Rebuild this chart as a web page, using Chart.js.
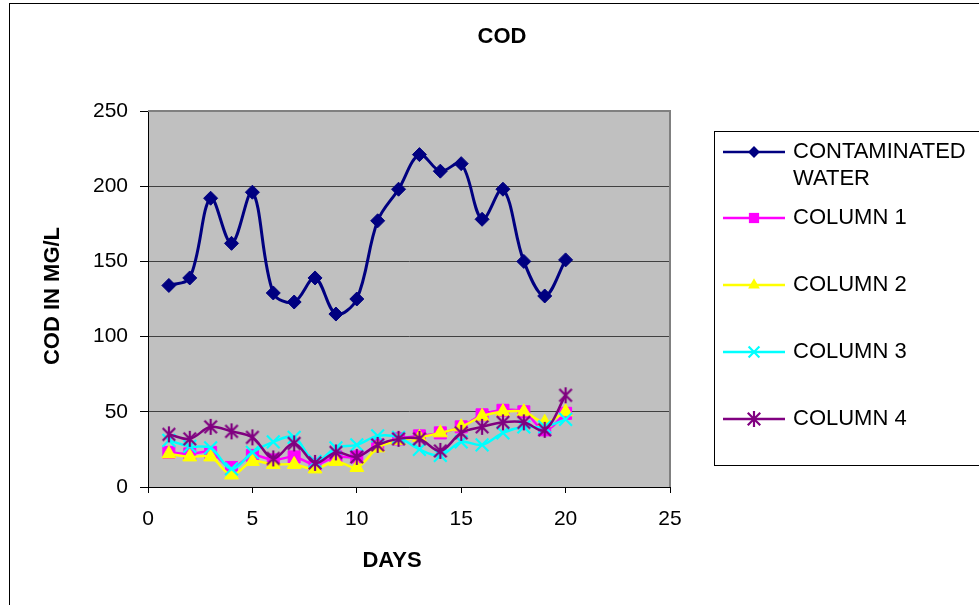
<!DOCTYPE html>
<html>
<head>
<meta charset="utf-8">
<script src="https://cdn.jsdelivr.net/npm/chart.js@4.4.1/dist/chart.umd.min.js"></script>
<style>
  html, body { margin: 0; padding: 0; background: #ffffff; }
  #wrap { width: 979px; height: 605px; position: relative; }
</style>
</head>
<body>
<div id="wrap"><canvas id="c" width="979" height="605"></canvas></div>
<script>
// ---- Data ----
const chartTitle = "COD";
const xTitle = "DAYS";
const yTitle = "COD IN MG/L";
const days = [1,2,3,4,5,6,7,8,9,10,11,12,13,14,15,16,17,18,19,20];
const seriesNames = ["CONTAMINATED WATER", "COLUMN 1", "COLUMN 2", "COLUMN 3", "COLUMN 4"];
const contaminatedWater = [134,139,192,162,196,129,123,139,115,125,177,198,221,210,215,178,198,150,127,151];
const column1 = [23,22,23,13,21,18,20,15,20,20,28,32,34,36,40,48,51,50,38,49];
const column2 = [22,20,20,8,17,15,15,12,17,13,26,31,33,36,40,47,50,50,43,50];
const column3 = [31,27,26,12,23,30,33,17,26,28,34,33,25,21,30,28,36,40,40,45];
const column4 = [35,32,40,37,33,19,29,16,23,20,28,32,32,24,36,40,43,43,38,61];
const xTicks = [0,5,10,15,20,25];
const yTicks = [0,50,100,150,200,250];

// ---- Styles ----
const FONT = "'Liberation Sans', Arial, Helvetica, sans-serif";
const colors = ["#000080", "#FF00FF", "#FFFF00", "#00FFFF", "#800080"];

function makeAsterisk(color, size, lw) {
  const c = document.createElement('canvas');
  c.width = size; c.height = size;
  const g = c.getContext('2d');
  g.strokeStyle = color; g.lineWidth = lw; g.lineCap = 'butt';
  const m = size / 2, r = size / 2 - 1;
  const d = r * 0.78;
  g.beginPath();
  g.moveTo(m - d, m - d); g.lineTo(m + d, m + d);
  g.moveTo(m + d, m - d); g.lineTo(m - d, m + d);
  g.moveTo(m, m - r); g.lineTo(m, m + r);
  g.stroke();
  return c;
}
const asterisk = makeAsterisk(colors[4], 18, 2.2);

const seriesData = [contaminatedWater, column1, column2, column3, column4];
const pointStyles = ['rectRot', 'rect', 'triangle', 'crossRot', asterisk];
const pointRadii = [7, 8.5, 8, 9, 9];

const datasets = seriesData.map((vals, i) => ({
  label: seriesNames[i],
  data: days.map((d, k) => ({ x: d, y: vals[k] })),
  borderColor: colors[i],
  backgroundColor: colors[i],
  pointBackgroundColor: colors[i],
  pointBorderColor: colors[i],
  pointBorderWidth: i === 3 ? 2.2 : 1,
  pointStyle: pointStyles[i],
  pointRadius: pointRadii[i],
  borderWidth: i === 0 ? 3 : 2.5,
  tension: 0.35,
  fill: false,
  order: 4 - i
}));

function drawMarker(ctx, style, x, y, r, color) {
  ctx.save();
  ctx.fillStyle = color; ctx.strokeStyle = color;
  if (style instanceof HTMLCanvasElement) {
    ctx.drawImage(style, x - style.width / 2, y - style.height / 2);
  } else if (style === 'rectRot') {
    ctx.beginPath(); ctx.moveTo(x - r, y); ctx.lineTo(x, y - r); ctx.lineTo(x + r, y); ctx.lineTo(x, y + r); ctx.closePath(); ctx.fill();
  } else if (style === 'rect') {
    const s = r * Math.SQRT1_2; ctx.fillRect(x - s, y - s, 2 * s, 2 * s);
  } else if (style === 'triangle') {
    ctx.beginPath();
    for (let k = 0; k < 3; k++) {
      const a = k * 2 * Math.PI / 3;
      const px = x + Math.sin(a) * r, py = y - Math.cos(a) * r;
      if (k === 0) ctx.moveTo(px, py); else ctx.lineTo(px, py);
    }
    ctx.closePath(); ctx.fill();
  } else if (style === 'crossRot') {
    const d = r * Math.SQRT1_2; ctx.lineWidth = 2.2;
    ctx.beginPath(); ctx.moveTo(x - d, y - d); ctx.lineTo(x + d, y + d); ctx.moveTo(x + d, y - d); ctx.lineTo(x - d, y + d); ctx.stroke();
  }
  ctx.restore();
}

const decorPlugin = {
  id: 'decor',
  beforeDraw(chart) {
    const { ctx, chartArea: a } = chart;
    ctx.save();
    ctx.fillStyle = '#ffffff';
    ctx.fillRect(0, 0, chart.width, chart.height);
    // outer frame
    ctx.strokeStyle = '#000000'; ctx.lineWidth = 1;
    ctx.strokeRect(9.5, 3.5, 1200, 1200);
    // plot area
    ctx.fillStyle = '#C0C0C0';
    ctx.fillRect(a.left, a.top, a.right - a.left, a.bottom - a.top);
    ctx.restore();
  },
  beforeDatasetsDraw(chart) {
    const { ctx, chartArea: a } = chart;
    ctx.save();
    ctx.strokeStyle = '#808080'; ctx.lineWidth = 2;
    ctx.beginPath();
    ctx.moveTo(a.left, a.top); ctx.lineTo(a.right, a.top); ctx.lineTo(a.right, a.bottom);
    ctx.stroke();
    ctx.restore();
  },
  afterDraw(chart) {
    const { ctx } = chart;
    ctx.save();
    // titles
    ctx.fillStyle = '#000000';
    ctx.font = "bold 22px " + FONT;
    ctx.textAlign = 'center'; ctx.textBaseline = 'middle';
    ctx.fillText(chartTitle, 502, 37);
    ctx.fillText(xTitle, 392, 561);
    ctx.save();
    ctx.translate(53, 296); ctx.rotate(-Math.PI / 2);
    ctx.fillText(yTitle, 0, 0);
    ctx.restore();
    // legend
    ctx.fillStyle = '#ffffff';
    ctx.fillRect(714.5, 131.5, 400, 334);
    ctx.strokeStyle = '#000000'; ctx.lineWidth = 1;
    ctx.strokeRect(714.5, 131.5, 400, 334);
    const rows = [152, 218, 285, 352, 419];
    ctx.font = "22px " + FONT;
    ctx.textAlign = 'left'; ctx.textBaseline = 'middle';
    rows.forEach((ry, i) => {
      ctx.strokeStyle = colors[i]; ctx.lineWidth = 2.5;
      ctx.beginPath(); ctx.moveTo(723, ry); ctx.lineTo(785, ry); ctx.stroke();
      drawMarker(ctx, pointStyles[i], 754, ry, pointRadii[i] * 0.85, colors[i]);
      ctx.fillStyle = '#000000';
      if (i === 0) {
        ctx.fillText("CONTAMINATED", 793, ry);
        ctx.fillText("WATER", 793, ry + 27);
      } else {
        ctx.fillText(seriesNames[i], 793, ry);
      }
    });
    ctx.restore();
  }
};

new Chart(document.getElementById('c'), {
  type: 'line',
  data: { datasets },
  options: {
    responsive: false,
    devicePixelRatio: 1,
    animation: false,
    events: [],
    layout: { padding: { top: 111, right: 309, left: 0, bottom: 0 } },
    plugins: { legend: { display: false }, title: { display: false }, tooltip: { enabled: false } },
    scales: {
      x: {
        type: 'linear', min: 0, max: 25,
        afterFit(s) { s.height = 118; },
        afterBuildTicks(s) { s.ticks = xTicks.map(v => ({ value: v })); },
        ticks: { color: '#000000', font: { family: FONT, size: 21 }, padding: 14, maxRotation: 0 },
        grid: { drawOnChartArea: false, tickLength: 6, tickColor: '#000000' },
        border: { color: '#000000', width: 1 }
      },
      y: {
        min: 0, max: 250,
        afterFit(s) { s.width = 148; },
        afterBuildTicks(s) { s.ticks = yTicks.map(v => ({ value: v })); },
        ticks: { color: '#000000', font: { family: FONT, size: 21 }, padding: 12 },
        grid: {
          tickLength: 8, tickColor: '#000000',
          color: (c) => c.tick && c.tick.value === 250 ? '#808080' : (c.tick && c.tick.value === 0 ? '#000000' : '#404040'),
          lineWidth: 1
        },
        border: { color: '#000000', width: 1 }
      }
    }
  },
  plugins: [decorPlugin]
});
</script>
</body>
</html>
